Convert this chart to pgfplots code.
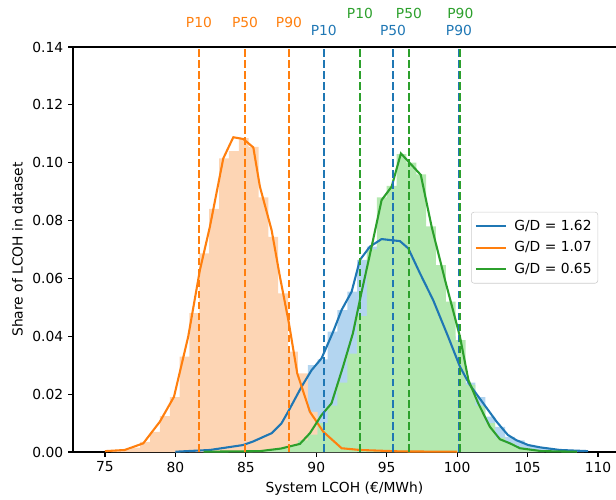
\documentclass[border=0pt]{standalone}
\usepackage{fontspec}
\setmainfont{DejaVu Sans}
\usepackage{pgfplots}
\pgfplotsset{compat=1.18}
\definecolor{cB}{HTML}{1F77B4}
\definecolor{cO}{HTML}{FF7F0E}
\definecolor{cG}{HTML}{2CA02C}
\definecolor{fB}{HTML}{B3D5F0}
\definecolor{fO}{HTML}{FDD5B4}
\definecolor{fG}{HTML}{B4E9B0}
\begin{document}
\begin{tikzpicture}
\begin{axis}[
  scale only axis, width=390.96bp, height=291.6bp,
  xmin=72.73, xmax=111.28, ymin=0, ymax=0.14,
  axis x line*=box, axis y line*=left,
  axis line style={-, line width=0.8bp},
  xtick pos=left, ytick pos=left,
  tick align=outside, major tick length=3.5bp,
  tick style={black, line width=0.8bp},
  xtick={75,80,85,90,95,100,105,110},
  ytick={0,0.02,0.04,0.06,0.08,0.10,0.12,0.14},
  scaled y ticks=false,
  yticklabel style={/pgf/number format/.cd, fixed, fixed zerofill, precision=2},
  /pgf/number format/assume math mode=true,
  ticklabel style={font=\fontsize{10}{12}\selectfont},
  label style={font=\fontsize{10}{12}\selectfont},
  xlabel={System LCOH (€/MWh)},
  ylabel={Share of LCOH in dataset},
  clip mode=individual,
  legend style={at={(0.733,0.593)}, anchor=north west, draw=black!20, rounded corners=2bp,
    fill=white, font=\fontsize{10}{12}\selectfont, inner xsep=2.5bp, inner ysep=3.5bp, row sep=2.8bp,
    column sep=3bp},
  legend cell align=left,
  legend image code/.code={\draw[#1, line width=1.5bp] (0bp,0bp) -- (22bp,0bp);},
]
% histograms
\addplot[const plot, fill=fB, draw=none, forget plot] coordinates {
(81.0,0.0002)(81.7,0.0004)(82.4,0.0007)(83.1,0.001)(83.8,0.0017)(84.5,0.0025)(85.2,0.0033)
(85.9,0.005)(86.6,0.0075)(87.3,0.011)(88.0,0.016)(88.7,0.022)(89.4,0.030)(90.1,0.032)
(90.8,0.0416)(91.5,0.049)(92.2,0.0554)(92.9,0.0664)(93.6,0.071)(94.3,0.073)(95.0,0.074)
(95.7,0.073)(96.4,0.069)(97.1,0.062)(97.8,0.055)(98.5,0.047)(99.2,0.040)(99.9,0.031)
(100.6,0.024)(101.3,0.019)(102.0,0.0122)(102.7,0.0087)(103.4,0.0052)(104.1,0.004)
(104.8,0.0025)(105.5,0.0017)(106.2,0.001)(106.9,0.0007)(107.6,0.0004)(108.3,0.0003)(109.0,0)
} \closedcycle;
\addplot[const plot, fill=fO, draw=none, forget plot] coordinates {
(75.4,0.0003)(76.1,0.0008)(76.8,0.0015)(77.5,0.0035)(78.2,0.007)(78.9,0.0124)(79.6,0.019)
(80.3,0.033)(81.0,0.048)(81.7,0.0687)(82.4,0.084)(83.1,0.1015)(83.8,0.104)(84.5,0.1085)
(85.2,0.1055)(85.9,0.088)(86.6,0.0744)(87.3,0.0548)(88.0,0.0347)(88.7,0.0272)(89.4,0.0139)
(90.1,0.006)(90.8,0.002)(91.5,0.0008)(92.2,0.0003)(92.9,0)
} \closedcycle;
\addplot[const plot, fill=fG, draw=none, forget plot] coordinates {
(85.2,0.0002)(85.9,0.0004)(86.6,0.0007)(87.3,0.0012)(88.0,0.002)(88.7,0.004)(89.4,0.006)
(90.1,0.010)(90.8,0.016)(91.5,0.024)(92.2,0.034)(92.9,0.047)(93.6,0.070)(94.3,0.088)
(95.0,0.092)(95.7,0.103)(96.4,0.100)(97.1,0.096)(97.8,0.078)(98.5,0.0646)(99.2,0.052)
(99.9,0.0387)(100.6,0.0232)(101.3,0.016)(102.0,0.010)(102.7,0.005)(103.4,0.003)
(104.1,0.0015)(104.8,0.0007)(105.5,0.0003)(106.2,0)
} \closedcycle;
% lines
\addplot[cB, line width=1.5bp] coordinates {
(80.0,0.0001)(82.45,0.0007)(84.8,0.0024)(85.5,0.0036)(86.83,0.0065)(87.53,0.0099)(88.0,0.0139)
(88.96,0.0226)(89.67,0.0283)(90.38,0.0324)(91.2,0.0416)(91.8,0.0491)(92.51,0.0554)(93.1,0.0664)
(93.81,0.071)(94.64,0.0736)(95.94,0.0729)(96.53,0.0704)(97.36,0.0618)(98.3,0.0525)(99.36,0.0399)
(100.2,0.0295)(100.9,0.0232)(101.86,0.0168)(102.8,0.0105)(103.6,0.0059)(104.2,0.0041)
(105.05,0.0024)(105.9,0.0016)(107.3,0.0007)(109.3,0.0003)
};
\addlegendentry{G/D = 1.62}
\addplot[cO, line width=1.5bp] coordinates {
(75.0,0.0003)(76.4,0.0007)(77.72,0.003)(78.9,0.0105)(79.9,0.0191)(80.91,0.0399)(81.74,0.0629)
(82.45,0.0779)(83.4,0.1015)(84.11,0.1088)(84.82,0.1082)(85.53,0.1053)(86.0,0.0917)(86.83,0.0767)
(87.42,0.0606)(88.06,0.0445)(88.65,0.0272)(89.55,0.0139)(90.5,0.0070)(91.8,0.0013)(93.1,0.0007)
(96.0,0.0002)(100.0,0.0001)
};
\addlegendentry{G/D = 1.07}
\addplot[cG, line width=1.5bp] coordinates {
(82.0,0.0001)(86.0,0.0003)(87.5,0.0012)(88.84,0.0028)(89.55,0.0065)(90.38,0.0128)(91.08,0.0168)
(91.9,0.0295)(92.6,0.041)(93.2,0.0549)(93.93,0.071)(94.64,0.0871)(95.35,0.0917)(96.01,0.1032)
(97.42,0.0958)(98.19,0.0779)(99.14,0.0595)(100.2,0.0399)(100.8,0.0249)(101.5,0.0168)
(102.33,0.0087)(103.04,0.0044)(103.75,0.003)(104.46,0.0013)(106.0,0.0003)(108.5,0.0001)
};
\addlegendentry{G/D = 0.65}
% percentile lines
\pgfplotsset{pline/.style={line width=1.5bp, dash pattern=on 5.5bp off 2.4bp, forget plot}}
\addplot[cO, pline] coordinates {(81.67,0) (81.67,0.14)};
\addplot[cO, pline] coordinates {(84.94,0) (84.94,0.14)};
\addplot[cO, pline] coordinates {(88.06,0) (88.06,0.14)};
\addplot[cB, pline] coordinates {(90.53,0) (90.53,0.14)};
\addplot[cB, pline] coordinates {(95.45,0) (95.45,0.14)};
\addplot[cB, pline] coordinates {(100.13,0) (100.13,0.14)};
\addplot[cG, pline] coordinates {(93.10,0) (93.10,0.14)};
\addplot[cG, pline] coordinates {(96.58,0) (96.58,0.14)};
\addplot[cG, pline] coordinates {(100.23,0) (100.23,0.14)};
% labels
\node[text=cO, yshift=18bp, font=\fontsize{10}{12}\selectfont] at (axis cs:81.67,0.14) {P10};
\node[text=cO, yshift=18bp, font=\fontsize{10}{12}\selectfont] at (axis cs:84.94,0.14) {P50};
\node[text=cO, yshift=18bp, font=\fontsize{10}{12}\selectfont] at (axis cs:88.06,0.14) {P90};
\node[text=cB, yshift=12.2bp, font=\fontsize{10}{12}\selectfont] at (axis cs:90.53,0.14) {P10};
\node[text=cB, yshift=12.2bp, font=\fontsize{10}{12}\selectfont] at (axis cs:95.45,0.14) {P50};
\node[text=cB, yshift=12.2bp, font=\fontsize{10}{12}\selectfont] at (axis cs:100.13,0.14) {P90};
\node[text=cG, yshift=24.5bp, font=\fontsize{10}{12}\selectfont] at (axis cs:93.10,0.14) {P10};
\node[text=cG, yshift=24.5bp, font=\fontsize{10}{12}\selectfont] at (axis cs:96.58,0.14) {P50};
\node[text=cG, yshift=24.5bp, font=\fontsize{10}{12}\selectfont] at (axis cs:100.23,0.14) {P90};
\end{axis}
\pgfresetboundingbox
\path ([shift={(-52.56bp,-34.56bp)}]current axis.south west) rectangle ([shift={(0bp,33.84bp)}]current axis.north east);
\end{tikzpicture}
\end{document}
